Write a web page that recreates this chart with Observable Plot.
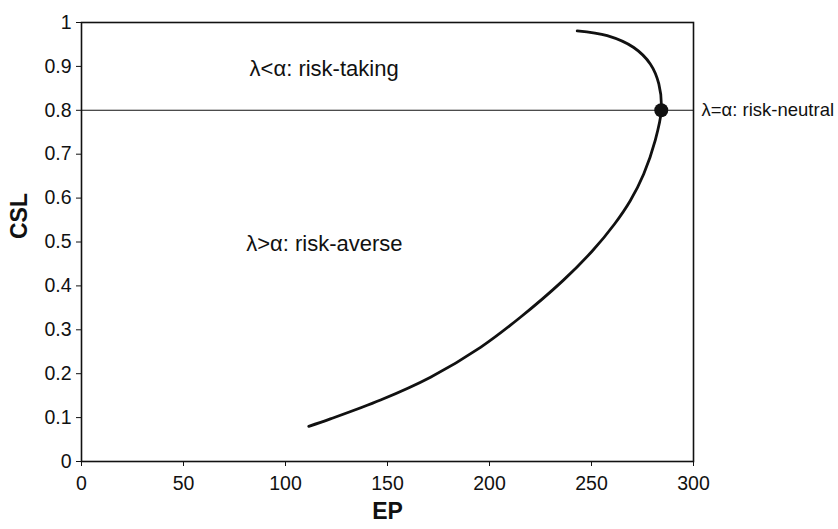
<!DOCTYPE html>
<html>
<head>
<meta charset="utf-8">
<script src="https://cdn.jsdelivr.net/npm/d3@7"></script>
<script src="https://cdn.jsdelivr.net/npm/@observablehq/plot@0.6"></script>
<style>
  html, body { margin: 0; padding: 0; background: #fff; }
  #chart svg { display: block; }
</style>
</head>
<body>
<div id="chart"></div>
<script>
// Curve (EP, CSL) ordered along the path from bottom to top
const curveEP  = [111.4, 122.0, 146.6, 171.1, 195.6, 215.0, 236.0, 250.5, 261.3, 269.0, 275.6, 281.2, 284.2, 283.0, 278.9, 270.7, 257.7, 243.0];
const curveCSL = [0.080, 0.097, 0.140, 0.192, 0.260, 0.328, 0.412, 0.480, 0.541, 0.594, 0.655, 0.731, 0.800, 0.860, 0.905, 0.943, 0.970, 0.981];

const neutralEP = 284.2;
const neutralCSL = 0.8;

const xTicks = [0, 50, 100, 150, 200, 250, 300];
const yTicks = [0, 0.1, 0.2, 0.3, 0.4, 0.5, 0.6, 0.7, 0.8, 0.9, 1];

const annoText = ["λ<α: risk-taking", "λ>α: risk-averse"];
const annoEP   = [82.4, 80.7];
const annoCSL  = [0.895, 0.496];

const neutralLabel = "λ=α: risk-neutral";

const curve = curveEP.map((x, i) => ({EP: x, CSL: curveCSL[i]}));
const annos = annoText.map((t, i) => ({text: t, EP: annoEP[i], CSL: annoCSL[i]}));

const ink = "#111";

const chart = Plot.plot({
  width: 838,
  height: 529,
  marginLeft: 81,
  marginRight: 145,
  marginTop: 22,
  marginBottom: 68,
  style: {fontFamily: "'Liberation Sans', Arial, sans-serif", color: ink, background: "#fff"},
  x: {domain: [0, 300]},
  y: {domain: [0, 1]},
  marks: [
    Plot.frame({stroke: ink, strokeWidth: 1.6}),
    Plot.axisX({ticks: xTicks, tickSize: 5, tickPadding: 10, fontSize: 19.5, label: null, tickFormat: d => String(d), stroke: ink}),
    Plot.axisY({ticks: yTicks, tickSize: 5, tickPadding: 5, fontSize: 19.5, label: null, tickFormat: d => String(d), stroke: ink}),
    Plot.ruleY([neutralCSL], {x1: 0, x2: 300, stroke: ink, strokeWidth: 1.1}),
    Plot.line(curve, {x: "EP", y: "CSL", curve: "catmull-rom", stroke: ink, strokeWidth: 2.8}),
    Plot.dot([{EP: neutralEP, CSL: neutralCSL}], {x: "EP", y: "CSL", r: 7, fill: ink, stroke: "none"}),
    Plot.text(annos, {x: "EP", y: "CSL", text: "text", textAnchor: "start", fontSize: 22, fill: ink}),
    Plot.text([neutralLabel], {x: () => 300, y: () => neutralCSL, text: d => d, textAnchor: "start", dx: 8, fontSize: 18.5, fill: ink, clip: false}),
    Plot.text(["EP"], {frameAnchor: "bottom", text: d => d, dy: 57, fontSize: 23, fontWeight: "bold", fill: ink}),
    Plot.text(["CSL"], {frameAnchor: "left", text: d => d, dx: -62, dy: -3, rotate: -90, fontSize: 23, fontWeight: "bold", fill: ink})
  ]
});
document.getElementById("chart").appendChild(chart);
</script>
</body>
</html>
